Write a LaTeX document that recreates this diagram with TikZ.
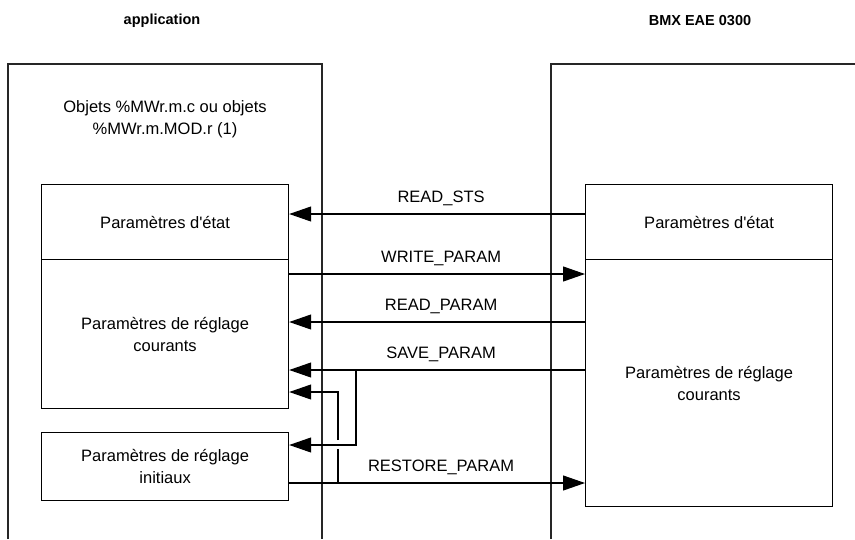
\documentclass[tikz,border=0pt]{standalone}
\usepackage{fontspec}
\setmainfont{Liberation Sans}
\usetikzlibrary{arrows.meta}

\begin{document}
\begin{tikzpicture}[x=1pt,y=1pt,font=\fontsize{16.5}{22}\selectfont,
  frame/.style={draw=black!85,line width=1.6pt},
  pbox/.style={draw,line width=1.2pt,inner sep=0pt,anchor=north west,align=center,minimum width=247},
  msg/.style={line width=1.1pt,-{Triangle[length=22pt,width=15pt]}},
  wire/.style={line width=1.1pt},
  head/.style={font=\fontsize{14.5}{17}\selectfont\bfseries}]
  \useasboundingbox (0,0) rectangle (855,-539);

  % Both sides of the exchange, with their open frames.
  \node[head] (app) at (162,-21) {application};
  \node[head] (bmx) at (700,-21) {BMX EAE 0300};
  \draw[frame] (8,-539) -- (8,-64) -- (322,-64) -- (322,-539);
  \draw[frame] (551,-539) -- (551,-64) -- (855,-64);
  \node[align=center] (objets) at (165,-119) {Objets \%MWr.m.c ou objets\\\%MWr.m.MOD.r (1)};

  % Parameter blocks: application on the left, module on the right.
  \node[pbox,minimum height=75] (lsts) at (41,-184) {Paramètres d\textquotesingle état};
  \node[pbox,minimum height=149] (lcur) at (41,-259) {Paramètres de réglage\\courants};
  \node[pbox,minimum height=68] (linit) at (41,-432) {Paramètres de réglage\\initiaux};
  \node[pbox,minimum height=75] (rsts) at (585,-184) {Paramètres d\textquotesingle état};
  \node[pbox,minimum height=247] (rcur) at (585,-259) {Paramètres de réglage\\courants};

  % Explicit exchanges; the label sits just above each line.
  \foreach \a/\b/\y/\tag/\name in {rsts.west/lsts.east/214/sts/READ\_STS,
      lcur.east/rcur.west/274/wpar/WRITE\_PARAM,
      rcur.west/lcur.east/322/rpar/READ\_PARAM,
      rcur.west/lcur.east/370/spar/SAVE\_PARAM,
      linit.east/rcur.west/483/rstr/RESTORE\_PARAM} {
    \draw[msg] (\a |- 0,-\y) -- node[anchor=base,inner sep=0pt,xshift=4pt,yshift=12pt] (\tag) {\name} (\b |- 0,-\y);
  }

  % SAVE also copies into the initial block, RESTORE back into the current one.
  \coordinate (savej) at (356,-370);
  \coordinate (savek) at (356,-445);
  \draw[msg] (savej) -- (savek) -- (linit.east |- savek);
  \coordinate (restj) at (338,-483);
  \coordinate (restk) at (338,-392);
  \draw[wire] (restj) -- ++(0,34);
  \draw[msg] (restj) ++(0,43) -- (restk) -- (lcur.east |- restk);
\end{tikzpicture}
\end{document}
